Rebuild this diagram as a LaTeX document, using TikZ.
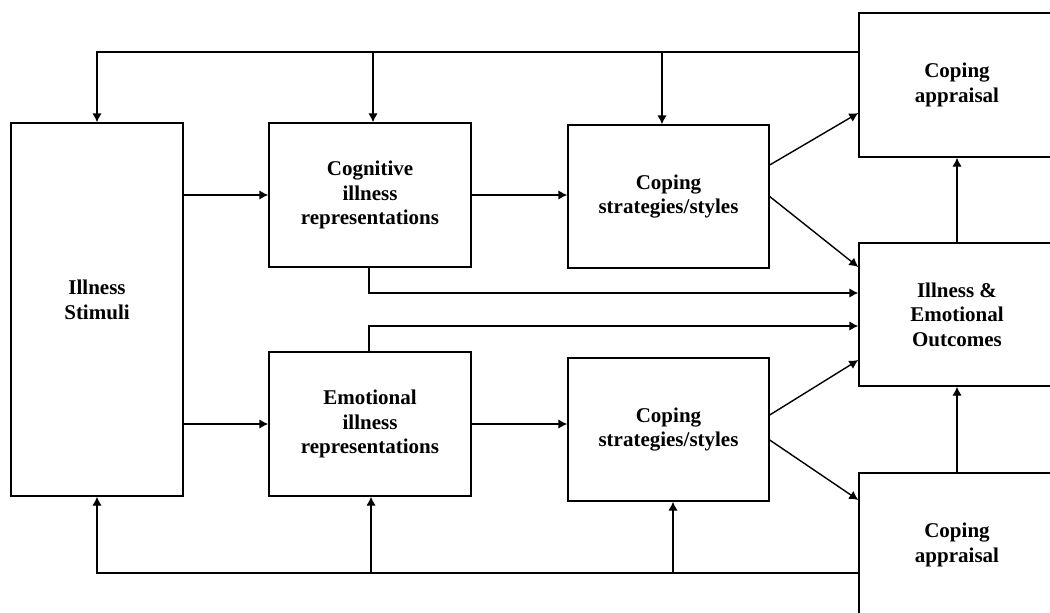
\documentclass[tikz,border=0pt]{standalone}
\usepackage{fontspec}
\setmainfont{Liberation Serif}
\usetikzlibrary{arrows.meta}

\begin{document}
\begin{tikzpicture}[x=1pt, y=-1pt, line width=1.4pt,
		>={Latex[length=9pt,width=9.5pt]},
		block/.style={draw, align=center, inner sep=0pt, font=\fontsize{21}{24.5}\selectfont\bfseries}]
		\useasboundingbox (0,0) rectangle (1050,613);

		\node[block, minimum width=172pt, minimum height=373pt] (stim) at (97,309.5) {Illness\\Stimuli\\[-4.5pt]\mbox{}};
		\node[block, minimum width=202pt, minimum height=144pt] (cog) at (370,195) {Cognitive\\illness\\representations};
		\node[block, minimum width=202pt, minimum height=144pt] (emo) at (370,424) {Emotional\\illness\\representations};
		\node[block, minimum width=201pt, minimum height=143pt] (copeA) at (668.5,196.5) {Coping\\strategies/styles};
		\node[block, minimum width=201pt, minimum height=143pt] (copeB) at (668.5,429.5) {Coping\\strategies/styles};
		\node[block, minimum width=196pt, minimum height=144pt] (apprA) at (957,85) {Coping\\appraisal};
		\node[block, minimum width=196pt, minimum height=143pt] (outc) at (957,314.5) {Illness \&\\Emotional\\Outcomes};
		\node[block, minimum width=196pt, minimum height=144pt] (apprB) at (957,545) {Coping\\appraisal};

		\coordinate (topL) at (97,52);
		\coordinate (botL) at (97,573);

		% feedback from the top
		\draw[->] (apprA.west |- topL) -- (topL) -- (stim.north);
		\draw[->] ([xshift=3pt]cog.north |- topL) -- ([xshift=3pt]cog.north);
		\draw[->] ([xshift=-6.5pt]copeA.north |- topL) -- ([xshift=-6.5pt]copeA.north);

		% feedback from the bottom
		\draw[->] (apprB.west |- botL) -- (botL) -- (stim.south);
		\draw[->] ([xshift=1pt]emo.south |- botL) -- ([xshift=1pt]emo.south);
		\draw[->] ([xshift=4.5pt]copeB.south |- botL) -- ([xshift=4.5pt]copeB.south);

		\draw[->] (stim.east |- cog.west) -- (cog.west);
		\draw[->] (stim.east |- emo.west) -- (emo.west);
		\draw[->] (cog.east) -- (cog.east -| copeA.west);
		\draw[->] (emo.east) -- (emo.east -| copeB.west);

		\draw[->] ([xshift=-1pt]cog.south) |- ([yshift=21.5pt]outc.west);
		\draw[->] ([xshift=-1pt]emo.north) |- ([yshift=-11.5pt]outc.west);

		\draw[->] ([yshift=31.5pt]copeA.east) -- ([yshift=-28pt]apprA.west);
		\draw[->] (copeA.east) -- ([yshift=47.5pt]outc.west);
		\draw[->] ([yshift=14.5pt]copeB.east) -- ([yshift=-45.5pt]outc.west);
		\draw[->] ([yshift=-10.5pt]copeB.east) -- ([yshift=45pt]apprB.west);

		\draw[->] (outc) -- (apprA);
		\draw[->] (apprB) -- (outc);
	\end{tikzpicture}
\end{document}
